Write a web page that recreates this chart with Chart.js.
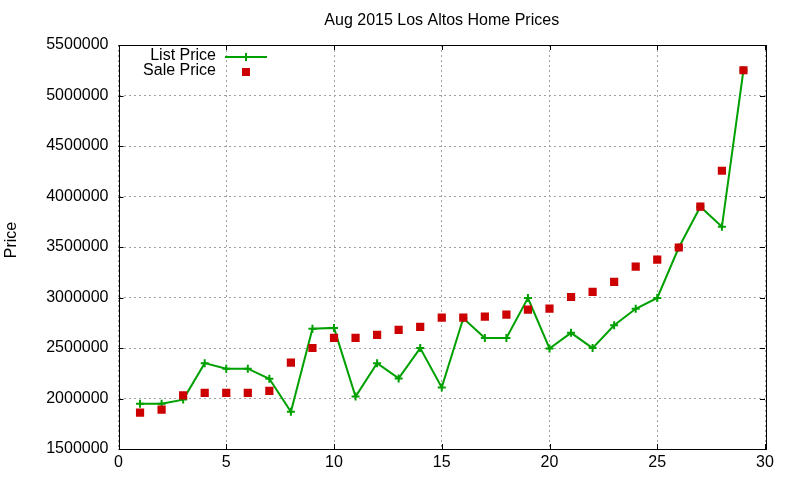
<!DOCTYPE html>
<html>
<head>
<meta charset="utf-8">
<script src="https://cdn.jsdelivr.net/npm/chart.js@4/dist/chart.umd.min.js"></script>
<style>
  html, body { margin: 0; padding: 0; background: #fff; }
  #wrap { width: 800px; height: 480px; position: relative; }
</style>
</head>
<body>
<div id="wrap"><canvas id="chartCanvas"></canvas></div>
<script>
// data
const days = [1, 2, 3, 4, 5, 6, 7, 8, 9, 10, 11, 12, 13, 14, 15, 16, 17, 18, 19, 20, 21, 22, 23, 24, 25, 26, 27, 28, 29];
const listPrice = [1949000, 1949000, 1989000, 2350000, 2295000, 2295000, 2195000, 1869000, 2690000, 2699000,
    2019000, 2349000, 2199000, 2499000, 2110000, 2795000, 2599000, 2599000, 2995000, 2495000,
    2650000, 2499000, 2725000, 2888000, 2995000, 3495000, 3899000, 3700000, 5250000];
const salePrice = [1860000, 1890000, 2030000, 2055000, 2055000, 2055000, 2075000, 2355000, 2500000, 2600000,
    2600000, 2630000, 2680000, 2710000, 2800000, 2800000, 2810000, 2830000, 2880000, 2890000,
    3005000, 3055000, 3155000, 3305000, 3375000, 3495000, 3899000, 4255000, 5250000];
const xTicks = [0, 5, 10, 15, 20, 25, 30];
const yTicks = [1500000, 2000000, 2500000, 3000000, 3500000, 4000000, 4500000, 5000000, 5500000];

const FONT = '"Liberation Sans", Arial, sans-serif';
const GREEN = '#00a000';
const RED = '#cc0000';

// gnuplot style frame with inward ticks on all four sides, title, ylabel and key
const framePlugin = {
    id: 'frame',
    afterDraw(chart) {
        const ctx = chart.ctx;
        const a = chart.chartArea;
        const xs = chart.scales.x, ys = chart.scales.y;
        const tl = 5;
        ctx.save();
        ctx.strokeStyle = '#000';
        ctx.lineWidth = 1;
        ctx.beginPath();
        xTicks.forEach(v => {
            const px = Math.round(xs.getPixelForValue(v)) + 0.5;
            ctx.moveTo(px, a.bottom); ctx.lineTo(px, a.bottom - tl);
            ctx.moveTo(px, a.top); ctx.lineTo(px, a.top + tl);
        });
        yTicks.forEach(v => {
            const py = Math.round(ys.getPixelForValue(v)) + 0.5;
            ctx.moveTo(a.left, py); ctx.lineTo(a.left + tl, py);
            ctx.moveTo(a.right, py); ctx.lineTo(a.right - tl, py);
        });
        ctx.stroke();
        ctx.strokeRect(Math.round(a.left) + 0.5, Math.round(a.top) + 0.5,
            Math.round(a.right - a.left), Math.round(a.bottom - a.top));

        ctx.font = '16px ' + FONT;
        ctx.fillStyle = '#000';
        ctx.textBaseline = 'middle';

        // title centred over the plot area
        ctx.textAlign = 'center';
        ctx.fillText('Aug 2015 Los Altos Home Prices', (a.left + a.right) / 2, 21);

        // y label
        ctx.save();
        ctx.translate(12, 240);
        ctx.rotate(-Math.PI / 2);
        ctx.fillText('Price', 0, 0);
        ctx.restore();

        // key, top left inside the frame
        ctx.textAlign = 'right';
        ctx.fillText('List Price', 216, 56);
        ctx.fillText('Sale Price', 216, 71);
        ctx.strokeStyle = GREEN;
        ctx.lineWidth = 2;
        ctx.beginPath();
        ctx.moveTo(225, 57); ctx.lineTo(267, 57);
        ctx.moveTo(246, 53); ctx.lineTo(246, 61);
        ctx.stroke();
        ctx.fillStyle = RED;
        ctx.fillRect(242, 68, 8, 8);
        ctx.restore();
    }
};

const chartConfig = {
    type: 'line',
    data: {
        datasets: [{
            label: 'List Price',
            data: days.map((d, i) => ({ x: d, y: listPrice[i] })),
            borderColor: GREEN,
            backgroundColor: GREEN,
            borderWidth: 2,
            tension: 0,
            pointStyle: 'cross',
            pointRadius: 4,
            pointBorderWidth: 2,
            pointBorderColor: GREEN,
            order: 2
        }, {
            label: 'Sale Price',
            data: days.map((d, i) => ({ x: d, y: salePrice[i] })),
            showLine: false,
            borderColor: RED,
            backgroundColor: RED,
            pointStyle: 'rect',
            pointRadius: 5.8,
            pointBorderWidth: 0,
            pointBackgroundColor: RED,
            order: 1
        }]
    },
    options: {
        responsive: true,
        maintainAspectRatio: false,
        devicePixelRatio: 1,
        animation: false,
        layout: { padding: { left: 0, right: 35, top: 45, bottom: 0 } },
        plugins: {
            legend: { display: false },
            tooltip: { enabled: false },
            title: { display: false }
        },
        scales: {
            x: {
                type: 'linear',
                min: 0,
                max: 30,
                afterBuildTicks: s => { s.ticks = xTicks.map(v => ({ value: v })); },
                afterFit: s => { s.height = 31; },
                ticks: { color: '#000', font: { family: FONT, size: 16 }, padding: 4, maxRotation: 0 },
                grid: { color: '#a0a0a0', lineWidth: 1, drawTicks: false },
                border: { display: false, dash: [2, 3] }
            },
            y: {
                min: 1500000,
                max: 5500000,
                afterBuildTicks: s => { s.ticks = yTicks.map(v => ({ value: v })); },
                afterFit: s => { s.width = 118.5; },
                ticks: { color: '#000', font: { family: FONT, size: 16 }, padding: 10,
                    callback: v => String(v) },
                grid: { color: '#a0a0a0', lineWidth: 1, drawTicks: false },
                border: { display: false, dash: [2, 3] }
            }
        }
    },
    plugins: [framePlugin]
};

window.myChart = new Chart(document.getElementById('chartCanvas').getContext('2d'), chartConfig);
</script>
</body>
</html>
